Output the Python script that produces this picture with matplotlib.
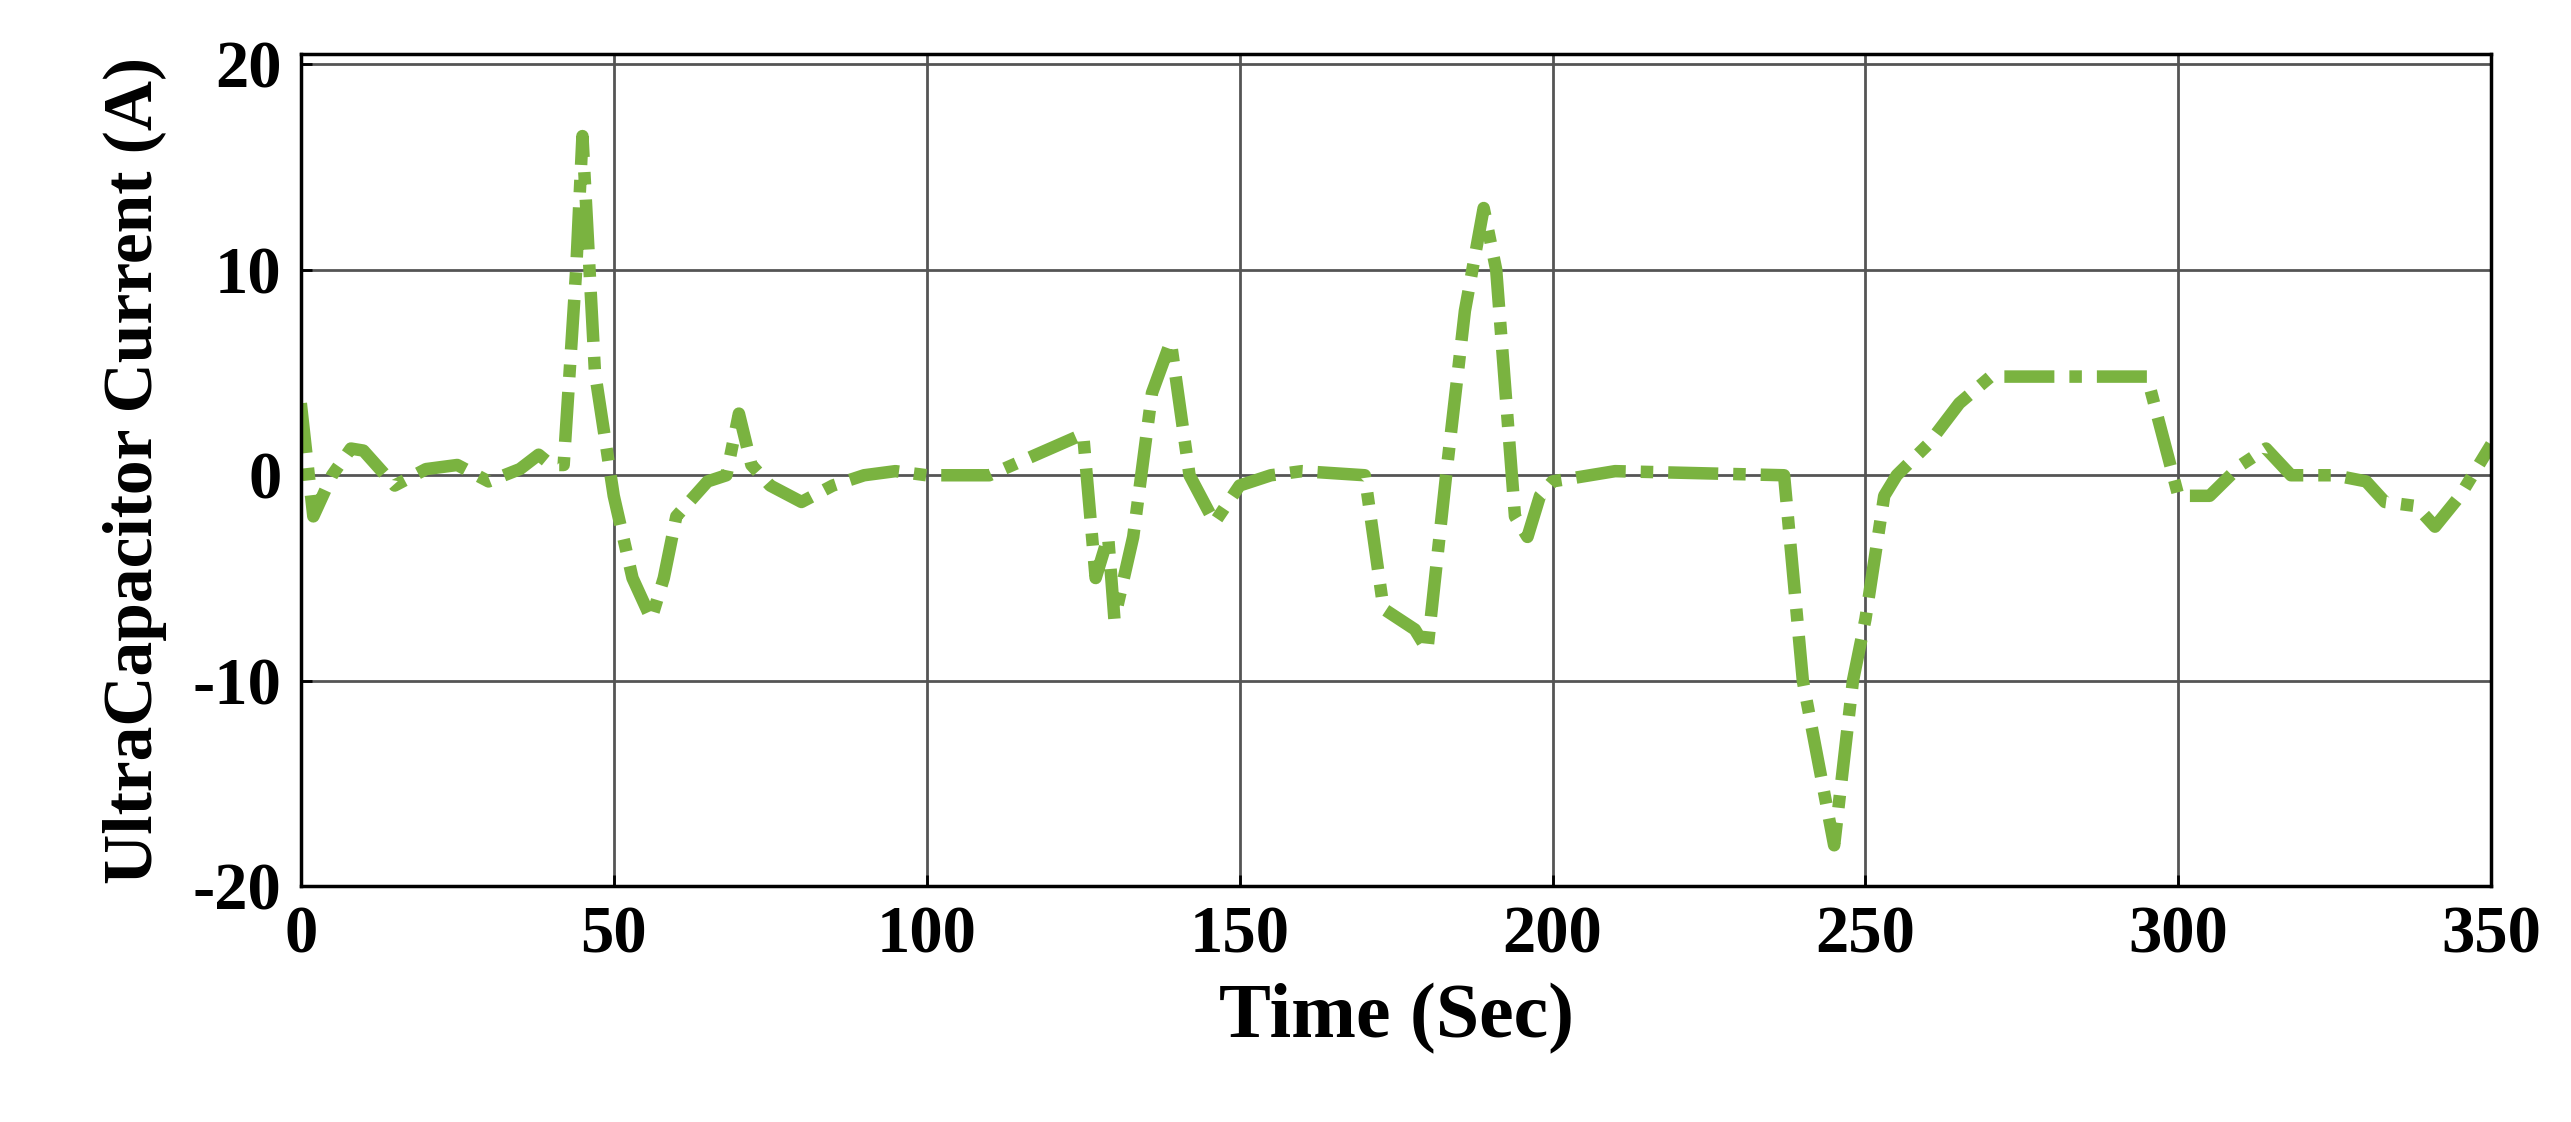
import matplotlib.pyplot as plt

# values
time = [0, 2, 5, 8, 10, 15, 20, 25, 30, 35, 38, 40, 42, 44, 45, 47, 50, 53, 56, 58,
        60, 65, 68, 70, 72, 75, 80, 85, 90, 95, 100, 110, 125, 127, 129, 130, 133, 136,
        139, 142, 146, 150, 155, 160, 170, 173, 178, 180, 183, 186, 189, 191, 194, 196,
        198, 200, 210, 237, 240, 245, 248, 250, 253, 255, 260, 265, 270, 295, 300, 305,
        310, 314, 318, 325, 330, 333, 338, 341, 345, 350]
current = [3.5, -2, 0, 1.3, 1.2, -0.5, 0.3, 0.5, -0.3, 0.3, 1, 0.5, 0.5, 10, 16.5, 5, -1,
           -5, -7, -5, -2, -0.3, 0, 3, 0.5, -0.5, -1.3, -0.5, 0, 0.2, 0, 0, 2, -5, -3, -7,
           -3, 4, 6.5, 0, -2.3, -0.5, 0, 0.2, 0, -6.5, -7.5, -8.5, 0, 8, 13, 10, -2, -3,
           -1, -0.3, 0.2, 0, -10, -18, -10, -7, -1, 0, 1.5, 3.5, 4.8, 4.8, -1, -1, 0.5,
           1.3, 0, 0, -0.3, -1.3, -1.5, -2.5, -1, 1.5]
xticks = [0, 50, 100, 150, 200, 250, 300, 350]
yticks = [-20, -10, 0, 10, 20]

plt.rcParams['font.family'] = ['Liberation Serif', 'DejaVu Serif']
plt.rcParams['axes.unicode_minus'] = False
fig = plt.figure(figsize=(25.71, 11.22), dpi=100)
ax = fig.add_axes([0.117, 0.21, 0.852, 0.742])
ax.plot(time, current, color="#7ab340", lw=9, ls=(0, (4, 1.2, 1, 1.2)))
ax.set_xlim(0, 350); ax.set_ylim(-20, 20.5)
ax.set_xticks(xticks); ax.set_yticks(yticks)
ax.grid(color="#555555", lw=2)
for s in ax.spines.values():
    s.set_linewidth(2.5)
ax.tick_params(labelsize=48, width=2, length=8, direction="in", pad=14)
for lb in ax.get_xticklabels() + ax.get_yticklabels():
    lb.set_fontweight("bold")
ax.set_xlabel("Time (Sec)", fontsize=56, fontweight="bold", labelpad=12)
ax.set_ylabel("UltraCapacitor Current (A)", fontsize=50, fontweight="bold", labelpad=18)
fig.savefig("out.png", dpi=100)
